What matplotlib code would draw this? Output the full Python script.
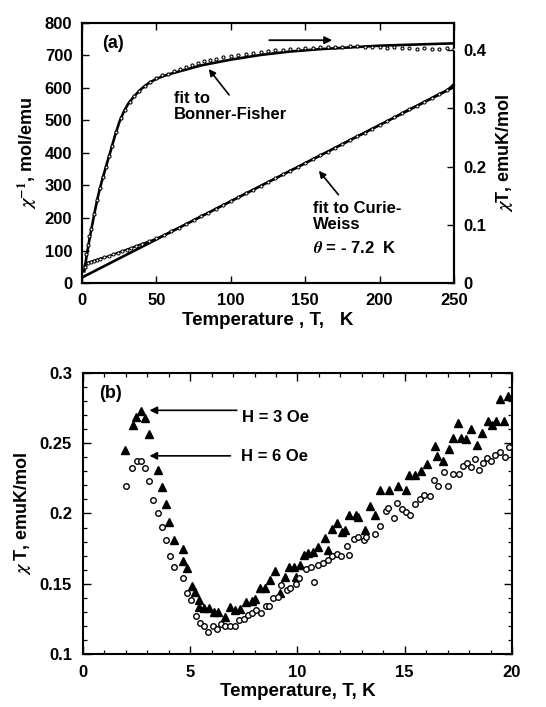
import matplotlib
matplotlib.use("Agg")
import matplotlib.pyplot as plt
from matplotlib.ticker import MultipleLocator

plt.rcParams['font.family'] = ['Liberation Sans', 'DejaVu Sans']
plt.rcParams['font.weight'] = 'bold'
plt.rcParams['mathtext.fontset'] = 'stix'

# ---------------- panel (a) data ----------------
# Bonner-Fisher fit (chi*T, right axis)
bf_T = [1.5, 3, 5, 7, 9, 11, 13, 15, 17, 19, 22, 25, 28, 31, 35, 40, 45, 50, 55, 60,
        70, 80, 90, 100, 120, 140, 160, 180, 200, 225, 250]
bf_chiT = [0.020, 0.045, 0.075, 0.102, 0.128, 0.152, 0.172, 0.190, 0.208, 0.225, 0.252,
           0.276, 0.294, 0.308, 0.321, 0.334, 0.344, 0.351, 0.356, 0.360, 0.367, 0.374,
           0.379, 0.384, 0.392, 0.398, 0.402, 0.405, 0.408, 0.410, 0.412]

# measured chi*T (right axis)
ct_T = [2, 3, 4, 5, 6, 8, 10, 12, 14, 16, 18, 20, 23, 26, 29, 32, 35, 38, 42, 46, 50, 54,
        58, 62, 66, 70, 74, 78, 82, 86, 90, 95, 100, 105, 110, 115, 120, 125, 130, 135,
        140, 145, 150, 155, 160, 165, 170, 175, 180, 185, 190, 195, 200, 205, 210, 215,
        220, 225, 230, 235, 240, 245, 250]
ct_val = [0.028, 0.050, 0.065, 0.080, 0.092, 0.118, 0.142, 0.163, 0.182, 0.200, 0.218,
          0.235, 0.260, 0.283, 0.298, 0.312, 0.322, 0.330, 0.338, 0.346, 0.352, 0.357,
          0.360, 0.364, 0.368, 0.371, 0.375, 0.378, 0.381, 0.383, 0.385, 0.388, 0.390,
          0.392, 0.394, 0.395, 0.397, 0.399, 0.400, 0.401, 0.402, 0.403, 0.404, 0.404,
          0.405, 0.405, 0.406, 0.406, 0.407, 0.407, 0.406, 0.405, 0.405, 0.404, 0.405,
          0.404, 0.404, 0.403, 0.404, 0.403, 0.403, 0.404, 0.402]

# Curie-Weiss fit (1/chi, left axis)
cw_T = [0, 250]
cw_inv = [17, 603]

# measured 1/chi (left axis)
inv_T = [2, 4, 6, 8, 10, 12, 15, 18, 21, 24, 27, 30, 33, 36, 40, 45, 50, 55, 60, 65, 70,
         75, 80, 85, 90, 95, 100, 105, 110, 115, 120, 125, 130, 135, 140, 145, 150, 155,
         160, 165, 170, 175, 180, 185, 190, 195, 200, 205, 210, 215, 220, 225, 230, 235,
         240, 245, 250]
inv_val = [55, 63, 66, 69, 72, 75, 79, 83, 88, 93, 98, 103, 108, 113, 120, 128, 137, 147,
           159, 170, 182, 193, 206, 216, 229, 240, 252, 264, 276, 287, 299, 311, 322, 334,
           346, 357, 369, 381, 393, 404, 416, 428, 440, 452, 463, 475, 487, 498, 510, 523,
           535, 546, 558, 570, 582, 593, 612]

# ---------------- panel (b) data ----------------
h3_T = [1.97, 2.31, 2.47, 2.69, 2.90, 3.06, 3.49, 3.70, 3.85, 4.02, 4.24, 4.64, 4.67, 4.86,
        5.06, 5.22, 5.42, 5.40, 5.64, 5.87, 6.10, 6.30, 6.63, 6.85, 7.08, 7.31, 7.62, 7.86,
        8.03, 8.25, 8.48, 8.71, 8.96, 9.20, 9.41, 9.61, 9.83, 9.94, 10.14, 10.30, 10.50,
        10.73, 10.96, 11.27, 11.43, 11.63, 11.85, 12.08, 12.20, 12.41, 12.75, 12.84, 13.17,
        13.40, 13.60, 13.84, 14.27, 14.69, 15.05, 15.20, 15.47, 15.75, 16.06, 16.40, 16.50,
        16.79, 17.05, 17.25, 17.48, 17.60, 17.84, 18.10, 18.37, 18.60, 18.90, 19.08, 19.27,
        19.42, 19.63, 19.80]
h3_chiT = [0.245, 0.263, 0.269, 0.273, 0.268, 0.2565, 0.231, 0.219, 0.207, 0.1936, 0.181,
           0.175, 0.1665, 0.161, 0.1485, 0.1444, 0.1385, 0.1333, 0.1325, 0.1325, 0.1297,
           0.1297, 0.1266, 0.1333, 0.1314, 0.1318, 0.1373, 0.138, 0.139, 0.1473, 0.1473,
           0.1523, 0.1594, 0.1432, 0.155, 0.1618, 0.1618, 0.1546, 0.1634, 0.1705, 0.1722,
           0.1724, 0.176, 0.1824, 0.1741, 0.1888, 0.1931, 0.1865, 0.1884, 0.199, 0.199,
           0.1974, 0.1884, 0.205, 0.199, 0.2169, 0.2169, 0.2197, 0.2169, 0.2276, 0.2276,
           0.2304, 0.2351, 0.2482, 0.2411, 0.237, 0.246, 0.2537, 0.2644, 0.2537, 0.253,
           0.260, 0.249, 0.257, 0.2656, 0.263, 0.2656, 0.2815, 0.2656, 0.2838]

h6_T = [2.00, 2.28, 2.53, 2.72, 2.90, 3.09, 3.28, 3.48, 3.70, 3.88, 4.05, 4.24, 4.64, 4.83,
        5.03, 5.26, 5.45, 5.64, 5.84, 6.07, 6.26, 6.44, 6.63, 6.85, 7.07, 7.28, 7.50, 7.70,
        7.86, 8.06, 8.28, 8.51, 8.68, 8.87, 9.07, 9.25, 9.49, 9.67, 9.92, 10.08, 10.42,
        10.65, 10.78, 10.96, 11.20, 11.43, 11.63, 11.85, 12.05, 12.31, 12.41, 12.62, 12.83,
        13.09, 13.21, 13.60, 13.84, 14.11, 14.22, 14.49, 14.64, 14.89, 15.08, 15.26, 15.47,
        15.70, 15.89, 16.16, 16.37, 16.55, 16.82, 17.02, 17.25, 17.53, 17.72, 17.90, 18.10,
        18.26, 18.46, 18.65, 18.84, 19.04, 19.22, 19.42, 19.66, 19.86]
h6_chiT = [0.2197, 0.2323, 0.2375, 0.2375, 0.2323, 0.2228, 0.2097, 0.2002, 0.1907, 0.1812,
           0.1698, 0.1622, 0.1539, 0.1432, 0.1385, 0.1271, 0.1219, 0.120, 0.1159, 0.120,
           0.1176, 0.1211, 0.120, 0.120, 0.120, 0.1242, 0.1247, 0.1278, 0.1295, 0.1314,
           0.129, 0.1342, 0.1342, 0.1397, 0.1409, 0.1492, 0.1456, 0.1468, 0.1499, 0.1539,
           0.1603, 0.1622, 0.1515, 0.1634, 0.1646, 0.167, 0.1694, 0.1713, 0.1698, 0.177,
           0.1705, 0.1817, 0.1836, 0.1812, 0.1831, 0.1855, 0.1912, 0.2014, 0.2038, 0.1967,
           0.2074, 0.2031, 0.2007, 0.199, 0.2069, 0.2102, 0.2133, 0.2126, 0.224, 0.2192,
           0.2292, 0.2192, 0.2283, 0.2283, 0.234, 0.2359, 0.233, 0.2387, 0.2311, 0.2359,
           0.2394, 0.237, 0.2418, 0.2435, 0.2401, 0.2473]

fig = plt.figure(figsize=(5.46, 7.07), dpi=100)

# ================= panel (a) =================
ax = fig.add_axes([0.1502, 0.5997, 0.6813, 0.3678])
ax2 = ax.twinx()

ax.plot(cw_T, cw_inv, color='k', lw=1.9, zorder=3)
ax.plot(inv_T, inv_val, color='k', lw=1.4, marker='o', ms=2.2, mfc='white', mec='k',
        mew=0.7, zorder=4)
ax2.plot(bf_T, bf_chiT, color='k', lw=1.9, zorder=3)
ax2.plot(ct_T, ct_val, ls='none', marker='o', ms=2.2, mfc='white', mec='k', mew=0.8,
         zorder=4)

ax.set_xlim(0, 250)
ax.set_ylim(0, 800)
ax2.set_ylim(0, 0.447)
ax.xaxis.set_major_locator(MultipleLocator(50))
ax.yaxis.set_major_locator(MultipleLocator(100))
ax2.set_yticks([0, 0.1, 0.2, 0.3, 0.4])
ax2.set_yticklabels(['0', '0.1', '0.2', '0.3', '0.4'])

ax.tick_params(axis='both', direction='in', length=5, width=1.0, labelsize=12,
               top=True, pad=7)
ax2.tick_params(axis='y', direction='in', length=5, width=1.0, labelsize=12, pad=7)
for a in (ax, ax2):
    for s in a.spines.values():
        s.set_linewidth(1.5)
    for lab in a.get_xticklabels() + a.get_yticklabels():
        lab.set_fontweight('bold')

ax.set_xlabel('Temperature , T,   K', fontsize=13.5, fontweight='bold', labelpad=3)
ax.set_ylabel(r'$\chi^{\mathbf{-1}}$, mol/emu', fontsize=13, fontweight='bold', labelpad=4)
ax2.set_ylabel(r'$\chi$T, emuK/mol', fontsize=13, fontweight='bold', labelpad=5,
               rotation=90)

ax.text(21, 736, '(a)', fontsize=13, fontweight='bold', ha='center', va='center')
ax.annotate('', xy=(170, 747), xytext=(124, 747),
            arrowprops=dict(arrowstyle='-|>', lw=1.3, color='k', mutation_scale=11))
ax.text(62, 592, 'fit to\nBonner-Fisher', fontsize=12, fontweight='bold', ha='left',
        va='top', linespacing=1.1)
ax.annotate('', xy=(84, 665), xytext=(100, 572),
            arrowprops=dict(arrowstyle='-|>', lw=1.2, color='k', mutation_scale=10))
ax.text(155.5, 252, 'fit to Curie-\nWeiss', fontsize=12, fontweight='bold', ha='left',
        va='top', linespacing=1.1)
ax.text(155.5, 109, r'$\theta$ = - 7.2  K', fontsize=12, fontweight='bold', ha='left',
        va='center')
ax.annotate('', xy=(158, 352), xytext=(173.5, 265),
            arrowprops=dict(arrowstyle='-|>', lw=1.2, color='k', mutation_scale=10))

# ================= panel (b) =================
bx = fig.add_axes([0.152, 0.075, 0.7857, 0.3975])
bx.plot(h3_T, h3_chiT, ls='none', marker='^', ms=5.2, mfc='k', mec='k', zorder=3)
bx.plot(h6_T, h6_chiT, ls='none', marker='o', ms=4.0, mfc='white', mec='k', mew=1.0,
        zorder=3)
bx.set_xlim(0, 20)
bx.set_ylim(0.1, 0.3)
bx.xaxis.set_major_locator(MultipleLocator(5))
bx.xaxis.set_minor_locator(MultipleLocator(1))
bx.yaxis.set_major_locator(MultipleLocator(0.05))
bx.yaxis.set_minor_locator(MultipleLocator(0.01))
bx.set_yticks([0.1, 0.15, 0.2, 0.25, 0.3])
bx.set_yticklabels(['0.1', '0.15', '0.2', '0.25', '0.3'])
bx.tick_params(axis='both', which='major', direction='in', length=6, width=1.0,
               labelsize=12, top=True, right=True, pad=8)
bx.tick_params(axis='both', which='minor', direction='in', length=3, width=0.9,
               top=True, right=True)
for s in bx.spines.values():
    s.set_linewidth(1.5)
for lab in bx.get_xticklabels() + bx.get_yticklabels():
    lab.set_fontweight('bold')

bx.set_xlabel('Temperature, T, K', fontsize=13.5, fontweight='bold', labelpad=2)
bx.set_ylabel(r'$\chi$ T, emuK/mol', fontsize=13, fontweight='bold', labelpad=5)

bx.text(1.3, 0.2853, '(b)', fontsize=13, fontweight='bold', ha='center', va='center')
bx.annotate('', xy=(2.97, 0.2734), xytext=(7.3, 0.2734),
            arrowprops=dict(arrowstyle='-|>', lw=1.2, color='k', mutation_scale=11))
bx.text(7.39, 0.2686, 'H = 3 Oe', fontsize=12, fontweight='bold', ha='left', va='center')
bx.annotate('', xy=(2.97, 0.2410), xytext=(7.0, 0.2410),
            arrowprops=dict(arrowstyle='-|>', lw=1.2, color='k', mutation_scale=11))
bx.text(7.36, 0.2406, 'H = 6 Oe', fontsize=12, fontweight='bold', ha='left', va='center')

fig.savefig('out.png', dpi=100)
